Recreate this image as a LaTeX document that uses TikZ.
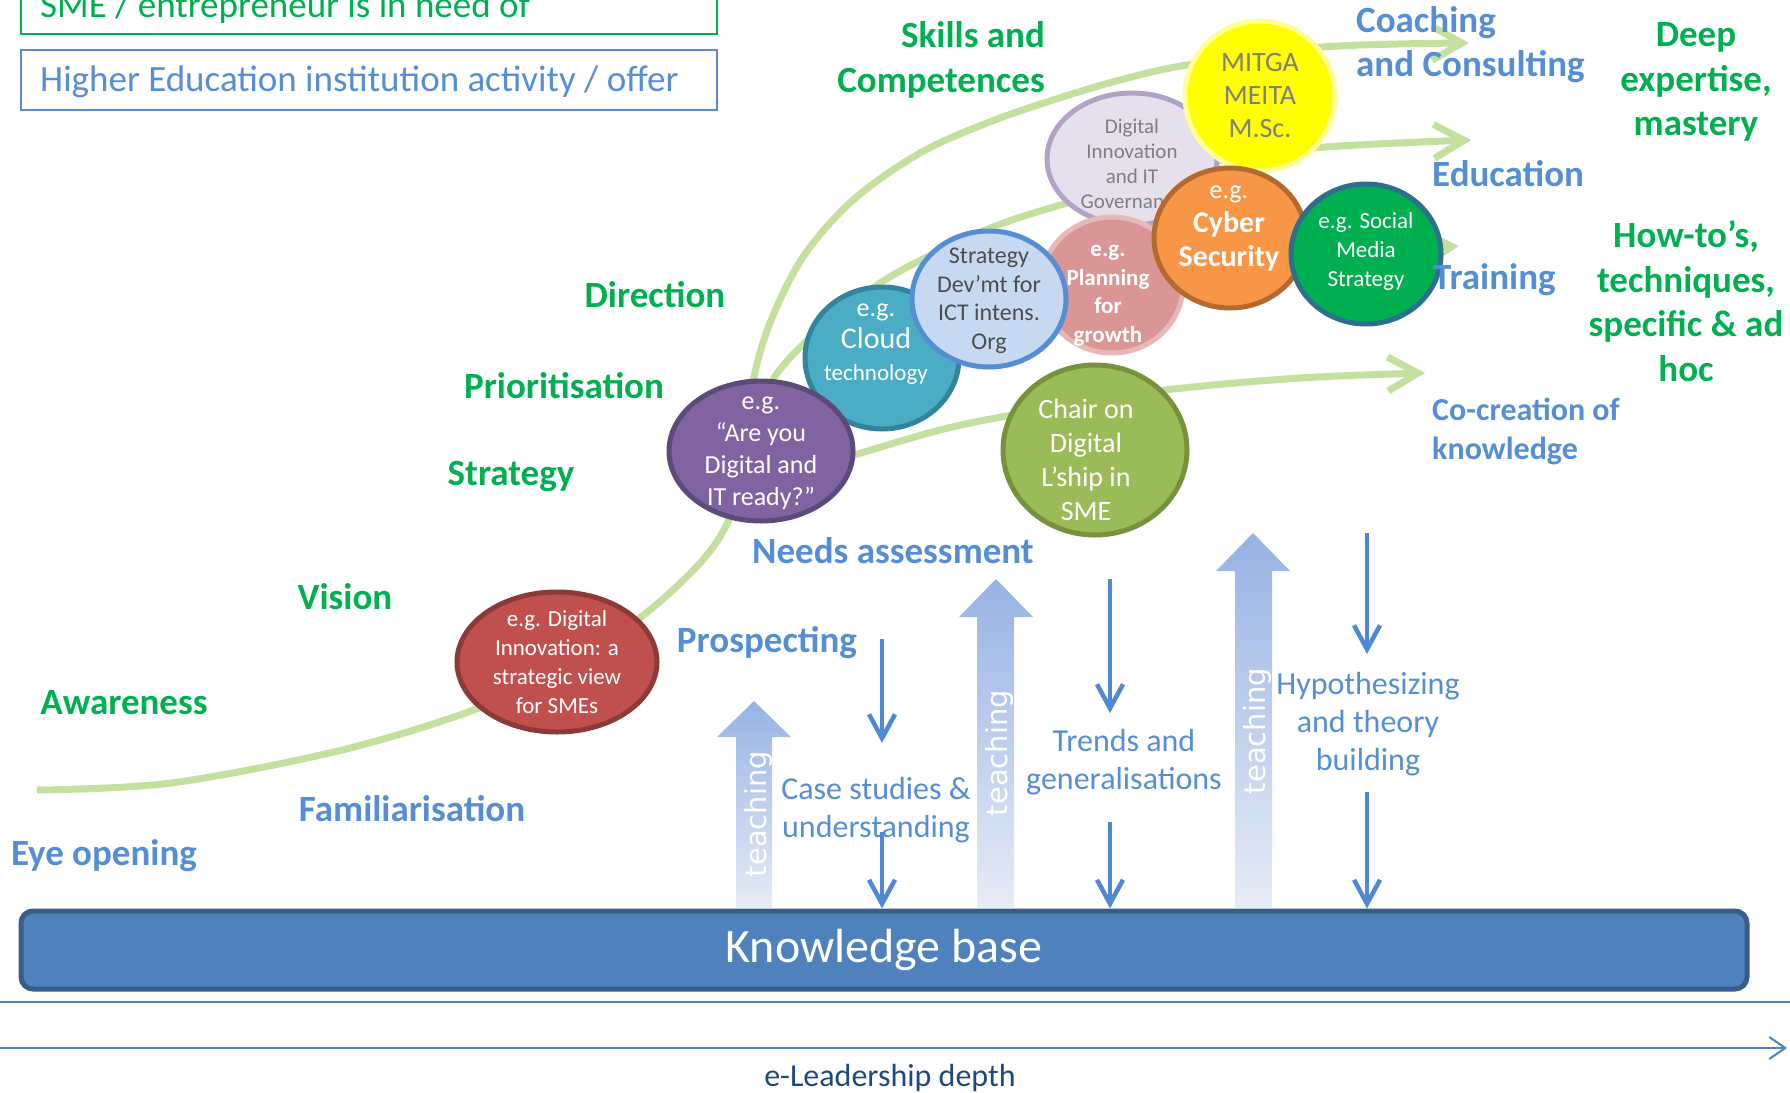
\documentclass[tikz,border=0pt]{standalone}
\usepackage{fontspec}
\setmainfont{Carlito}
\newfontfamily\dvs{DejaVu Sans}
\usetikzlibrary{shapes.geometric,arrows.meta}
\definecolor{gT}{HTML}{00B050}
\definecolor{bT}{HTML}{558ED5}
\definecolor{crvC}{RGB}{196,224,158}
\definecolor{darrC}{HTML}{4F88D4}
\definecolor{tTop}{HTML}{97B3E3}
\definecolor{tBot}{HTML}{E6ECF7}
\definecolor{kbF}{HTML}{4F81BD}
\definecolor{kbD}{HTML}{385D8A}
\definecolor{axisC}{HTML}{4F81BD}
\definecolor{depthC}{HTML}{1F497D}
\definecolor{redF}{HTML}{C0504D}\definecolor{redD}{HTML}{8C3A38}
\definecolor{purF}{HTML}{8064A2}\definecolor{purD}{HTML}{5C4A7A}
\definecolor{tealF}{HTML}{4BACC6}\definecolor{tealD}{HTML}{31849B}
\definecolor{strF}{HTML}{C6D9F1}\definecolor{strD}{HTML}{558ED5}
\definecolor{lavF}{HTML}{E6E0EC}\definecolor{lavD}{HTML}{B3A2C7}
\definecolor{pinkF}{HTML}{D99694}\definecolor{pinkD}{HTML}{E6B9B8}
\definecolor{yelF}{HTML}{FFFF00}\definecolor{yelD}{HTML}{FFFF99}
\definecolor{oraF}{HTML}{F79646}\definecolor{oraD}{HTML}{B5692E}
\definecolor{grnF}{HTML}{00B050}\definecolor{grnD}{HTML}{2E6F8E}
\definecolor{oliF}{HTML}{9BBB59}\definecolor{oliD}{HTML}{76923C}
\definecolor{grayT}{HTML}{7F7F7F}
\definecolor{dgrayT}{HTML}{4D4D4D}
\begin{document}
\begin{tikzpicture}[x=1pt,y=-1pt,
  glab/.style={font=\fontsize{37}{44.5}\selectfont\bfseries, text=gT, align=center, inner sep=0pt},
  blab/.style={font=\fontsize{37}{44}\selectfont\bfseries, text=bT, align=center, inner sep=0pt},
  ntxt/.style={font=\fontsize{32}{38}\selectfont, text=bT, align=center, inner sep=0pt},
  bub/.style={ellipse, inner sep=0pt, line width=5pt},
  btxt/.style={align=center, inner sep=0pt, text=white},
  crv/.style={line width=7pt, draw=crvC},
  crvtip/.style={-{Straight Barb[length=30pt,width=34pt]}},
  darrow/.style={line width=4.5pt, draw=darrC, -{Straight Barb[length=24pt,width=26pt]}},
  teach/.style={top color=tTop, bottom color=tBot, draw=none},
  teachtxt/.style={rotate=90, text=white, font=\dvs\fontsize{29}{30}\selectfont, inner sep=0pt},
]
\useasboundingbox (0,0) rectangle (1790,1092);

% ---------- legend ----------
\draw[gT, line width=1.5pt] (21,-30) rectangle (717,34);
\node[anchor=base west, inner sep=0pt, text=gT, font=\fontsize{37}{42}\selectfont] (leg1) at (40,17) {SME / entrepreneur is in need of};
\draw[bT, line width=1.5pt] (21,50) rectangle (717,110);
\node[anchor=base west, inner sep=0pt, text=bT, font=\fontsize{37}{42}\selectfont] (leg2) at (40,91) {Higher Education institution activity / offer};

% ---------- green curves ----------
\draw[crv, crvtip] plot[smooth, tension=0.55] coordinates {(37,790) (171,783) (342,750) (479,708) (557,668) (637,620) (700,563) (730,517) (748,450) (753,383) (770,323) (803,257) (853,200) (920,153) (987,123) (1053,100) (1120,80) (1187,65) (1322,47) (1469,43)};
\draw[crv, crvtip] plot[smooth, tension=0.55] coordinates {(768,410) (774,378) (810,338) (870,290) (917,262) (993,227) (1067,203) (1200,165) (1313,148) (1471,140)};
\draw[crv, crvtip] plot[smooth, tension=0.6] coordinates {(882,358) (989,300) (1110,283) (1229,250) (1366,250) (1459,246)};
\draw[crv, crvtip] plot[smooth, tension=0.6] coordinates {(800,470) (854,455) (940,430) (1007,416) (1094,402) (1165,390) (1300,378) (1425,373)};

% ---------- bubbles ----------
\node[bub, fill=lavF, draw=lavD, minimum width=170pt, minimum height=132pt] (lav) at (1132,159) {};
\node[btxt, text=grayT, font=\fontsize{21}{25}\selectfont] (lavt) at (1132,164) {Digital\\Innovation\\and IT\\Governance};

\node[bub, fill=yelF, draw=yelD, minimum width=150pt, minimum height=150pt] (yel) at (1260,96) {};
\node[btxt, text=grayT, font=\fontsize{28}{33}\selectfont] (yelt) at (1260,96) {MITGA\\MEITA\\M.Sc.};

\node[bub, fill=pinkF, draw=pinkD, minimum width=142pt, minimum height=136pt] (pink) at (1112,285) {};
\node[btxt, font=\fontsize{23}{28.5}\selectfont\bfseries] (pinkt) at (1108,296) {e.g.\\Planning\\for\\growth};

\node[bub, fill=tealF, draw=tealD, minimum width=154pt, minimum height=142pt] (teal) at (882,358) {};
\node[btxt, font=\fontsize{30}{32}\selectfont] (tealt) at (876,344) {{\fontsize{26}{32}\selectfont e.g.}\\Cloud\\{\fontsize{23}{32}\selectfont technology}};

\node[bub, fill=strF, draw=strD, minimum width=154pt, minimum height=136pt] (str) at (989,299) {};
\node[btxt, text=dgrayT, font=\fontsize{24}{28.5}\selectfont] (strt) at (989,301) {Strategy\\Dev’mt for\\ICT intens.\\Org};

\node[bub, fill=purF, draw=purD, minimum width=184pt, minimum height=140pt] (pur) at (761,451) {};
\node[btxt, font=\fontsize{26}{32}\selectfont] (purt) at (761,453) {e.g.\\“Are you\\Digital and\\IT ready?”};

\node[bub, fill=oraF, draw=oraD, minimum width=152pt, minimum height=140pt] (ora) at (1230,238) {};
\node[btxt, font=\fontsize{30}{34}\selectfont\bfseries] (orat) at (1229,229) {{\mdseries\fontsize{26}{34}\selectfont e.g.}\\Cyber\\Security};

\node[bub, fill=grnF, draw=grnD, minimum width=150pt, minimum height=140pt] (grn) at (1366,254) {};
\node[btxt, font=\fontsize{23}{29}\selectfont] (grnt) at (1366,251) {e.g. Social\\Media\\Strategy};

\node[bub, fill=redF, draw=redD, minimum width=200pt, minimum height=140pt] (red) at (557,662) {};
\node[btxt, font=\fontsize{23}{29}\selectfont] (redt) at (557,662) {e.g. Digital\\Innovation: a\\strategic view\\for SMEs};

\node[bub, fill=oliF, draw=oliD, minimum width=184pt, minimum height=170pt] (oli) at (1095,450) {};
\node[btxt, font=\fontsize{28}{34}\selectfont] (olit) at (1086,460) {Chair on\\Digital\\L’ship in\\SME};

% ---------- green labels ----------
\node[glab, align=right, anchor=east] (skills) at (1045,60) {Skills and\\Competences};
\node[glab] (direction) at (655,295) {Direction};
\node[glab] (prio) at (564,386) {Prioritisation};
\node[glab] (strat) at (511,476) {Strategy};
\node[glab] (vision) at (345,597) {Vision};
\node[glab] (aware) at (124,703) {Awareness};
\node[glab] (deep) at (1696,82) {Deep\\expertise,\\mastery};
\node[glab] (howto) at (1686,301) {How-to’s,\\techniques,\\specific \& ad\\hoc};

% ---------- blue labels ----------
\node[blab, align=left, anchor=west] (coach) at (1356,45) {Coaching\\and Consulting};
\node[blab, anchor=west] (edu) at (1432,174) {Education};
\node[blab, anchor=west] (train) at (1433,280) {Training};
\node[blab, align=left, anchor=west, font=\fontsize{32}{39}\selectfont\bfseries] (cocr) at (1432,431) {Co-creation of\\knowledge};
\node[blab] (needs) at (893,551) {Needs assessment};
\node[blab] (prosp) at (767,643) {Prospecting};
\node[blab] (famil) at (412,809) {Familiarisation};
\node[blab] (eye) at (104,856) {Eye opening};

% ---------- knowledge base ----------
\node[rectangle, rounded corners=12pt, fill=kbF, draw=kbD, line width=5pt, minimum width=1726pt, minimum height=78pt, inner sep=0pt, text=white, font=\fontsize{48}{54}\selectfont] (kb) at (884,950) {Knowledge base};

% ---------- teaching arrows ----------
\shade[teach] (736,908) -- (736,737) -- (717,737) -- (754,701) -- (791,737) -- (772,737) -- (772,908) -- cycle;
\shade[teach] (977,908) -- (977,617) -- (959,617) -- (996,579) -- (1033,617) -- (1014,617) -- (1014,908) -- cycle;
\shade[teach] (1235,908) -- (1235,571) -- (1216,571) -- (1253,533) -- (1290,571) -- (1272,571) -- (1272,908) -- cycle;
\node[teachtxt] (t1) at (758,814) {teaching};
\node[teachtxt] (t2) at (999,753) {teaching};
\node[teachtxt] (t3) at (1257,731) {teaching};

% ---------- blue text ----------
\node[ntxt] (case) at (876,810) {Case studies \&\\understanding};
\node[ntxt] (trends) at (1124,762) {Trends and\\generalisations};
\node[ntxt] (hypo) at (1368,724) {Hypothesizing\\and theory\\building};

% ---------- down arrows ----------
\coordinate (d1t) at (882,639); \coordinate (d1b) at (882,743);
\coordinate (d2t) at (882,832);
\coordinate (d3t) at (1110,579); \coordinate (d3b) at (1110,713);
\coordinate (d4t) at (1110,822);
\coordinate (d5t) at (1367,533); \coordinate (d5b) at (1367,654);
\coordinate (d6t) at (1367,792);
\draw[darrow] (d1t) -- (d1b);
\draw[darrow] (d2t) -- (d2t |- kb.north);
\draw[darrow] (d3t) -- (d3b);
\draw[darrow] (d4t) -- (d4t |- kb.north);
\draw[darrow] (d5t) -- (d5b);
\draw[darrow] (d6t) -- (d6t |- kb.north);

% ---------- axis ----------
\coordinate (ax1l) at (0,1002); \coordinate (ax1r) at (1790,1002);
\draw[axisC, line width=2.5pt] (ax1l) -- (ax1r);
\coordinate (ax2l) at (0,1048); \coordinate (ax2r) at (1787,1048);
\draw[axisC, line width=2pt, -{Straight Barb[length=16pt,width=22pt]}] (ax2l) -- (ax2r);
\node[text=depthC, font=\fontsize{32}{36}\selectfont, inner sep=0pt] (depth) at (890,1078) {e-Leadership depth};
\end{tikzpicture}
\end{document}
